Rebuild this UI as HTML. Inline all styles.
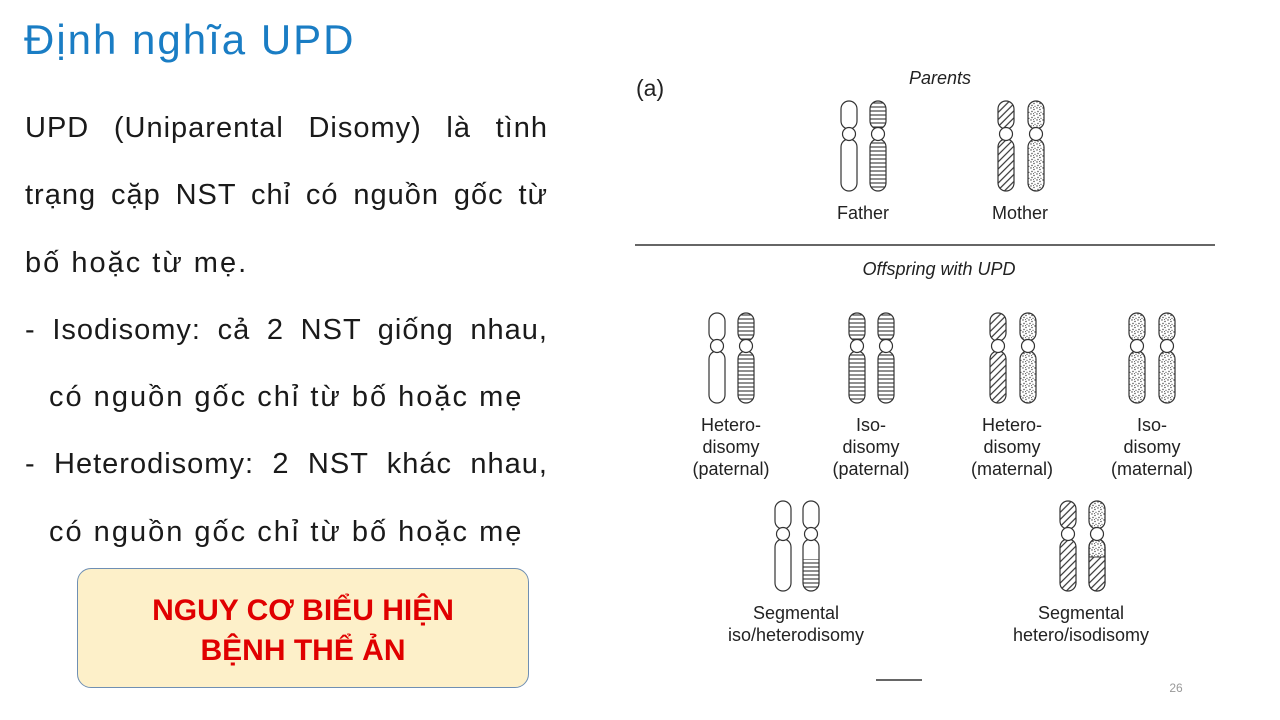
<!DOCTYPE html>
<html><head><meta charset="utf-8"><style>
body{margin:0;width:1280px;height:720px;background:#fff;position:relative;overflow:hidden;font-family:"Liberation Sans","DejaVu Sans",sans-serif}
.t{position:absolute;left:25px;width:523px;font-size:29px;line-height:40px;color:#1a1a1a;white-space:nowrap;letter-spacing:2px}
.j{text-align:justify;text-align-last:justify;letter-spacing:1px}
.title{position:absolute;left:24px;top:14px;font-size:42px;color:#1a7dc4;line-height:52px;letter-spacing:2px}
.box{position:absolute;left:77px;top:568px;width:452px;height:120px;background:#fdf0c9;border:1px solid #6f8fb3;border-radius:14px;box-sizing:border-box;text-align:center;color:#e00000;font-weight:bold;font-size:30px;line-height:40px;padding-top:22px}
</style></head><body>
<div class="title">Định nghĩa UPD</div>
<div class="t j" style="top:108px">UPD (Uniparental Disomy) là tình</div>
<div class="t j" style="top:175px">trạng cặp NST chỉ có nguồn gốc từ</div>
<div class="t" style="top:243px">bố hoặc từ mẹ.</div>
<div class="t j" style="top:310px">- Isodisomy: cả 2 NST giống nhau,</div>
<div class="t" style="top:377px;left:49px">có nguồn gốc chỉ từ bố hoặc mẹ</div>
<div class="t j" style="top:444px">- Heterodisomy: 2 NST khác nhau,</div>
<div class="t" style="top:512px;left:49px">có nguồn gốc chỉ từ bố hoặc mẹ</div>
<div class="box">NGUY CƠ BIỂU HIỆN<br>BỆNH THỂ ẢN</div>
<svg width="1280" height="720" style="position:absolute;left:0;top:0" font-family="Liberation Sans, sans-serif">
<defs>
<pattern id="hl" width="4" height="4" patternUnits="userSpaceOnUse"><rect width="4" height="4" fill="#fff"/><line x1="0" y1="2" x2="4" y2="2" stroke="#333" stroke-width="1.1"/></pattern>
<pattern id="dg" width="5" height="5" patternUnits="userSpaceOnUse" patternTransform="rotate(-45)"><rect width="5" height="5" fill="#fff"/><line x1="0" y1="2.5" x2="5" y2="2.5" stroke="#333" stroke-width="1.2"/></pattern>
<pattern id="dt" width="6" height="6" patternUnits="userSpaceOnUse"><rect width="6" height="6" fill="#fff"/><circle cx="1" cy="1" r=".7" fill="#444"/><circle cx="4" cy="2.5" r=".7" fill="#444"/><circle cx="2" cy="4.5" r=".7" fill="#444"/><circle cx="5" cy="5.3" r=".6" fill="#444"/><circle cx="3.5" cy="0.5" r=".5" fill="#444"/></pattern>
</defs>
<g stroke="#333" stroke-width="1.2">
<g transform="translate(849,101)"><rect x="-8" y="0" width="16" height="28" rx="8" fill="#fff"/><rect x="-8" y="38" width="16" height="52" rx="8" fill="#fff"/><circle cx="0" cy="33" r="6.5" fill="#fff"/></g>
<g transform="translate(878,101)"><rect x="-8" y="0" width="16" height="28" rx="8" fill="url(#hl)"/><rect x="-8" y="38" width="16" height="52" rx="8" fill="url(#hl)"/><circle cx="0" cy="33" r="6.5" fill="#fff"/></g>
<g transform="translate(1006,101)"><rect x="-8" y="0" width="16" height="28" rx="8" fill="url(#dg)"/><rect x="-8" y="38" width="16" height="52" rx="8" fill="url(#dg)"/><circle cx="0" cy="33" r="6.5" fill="#fff"/></g>
<g transform="translate(1036,101)"><rect x="-8" y="0" width="16" height="28" rx="8" fill="url(#dt)"/><rect x="-8" y="38" width="16" height="52" rx="8" fill="url(#dt)"/><circle cx="0" cy="33" r="6.5" fill="#fff"/></g>

<g transform="translate(717,313)"><rect x="-8" y="0" width="16" height="28" rx="8" fill="#fff"/><rect x="-8" y="38" width="16" height="52" rx="8" fill="#fff"/><circle cx="0" cy="33" r="6.5" fill="#fff"/></g>
<g transform="translate(746,313)"><rect x="-8" y="0" width="16" height="28" rx="8" fill="url(#hl)"/><rect x="-8" y="38" width="16" height="52" rx="8" fill="url(#hl)"/><circle cx="0" cy="33" r="6.5" fill="#fff"/></g>
<g transform="translate(857,313)"><rect x="-8" y="0" width="16" height="28" rx="8" fill="url(#hl)"/><rect x="-8" y="38" width="16" height="52" rx="8" fill="url(#hl)"/><circle cx="0" cy="33" r="6.5" fill="#fff"/></g>
<g transform="translate(886,313)"><rect x="-8" y="0" width="16" height="28" rx="8" fill="url(#hl)"/><rect x="-8" y="38" width="16" height="52" rx="8" fill="url(#hl)"/><circle cx="0" cy="33" r="6.5" fill="#fff"/></g>
<g transform="translate(998,313)"><rect x="-8" y="0" width="16" height="28" rx="8" fill="url(#dg)"/><rect x="-8" y="38" width="16" height="52" rx="8" fill="url(#dg)"/><circle cx="0" cy="33" r="6.5" fill="#fff"/></g>
<g transform="translate(1028,313)"><rect x="-8" y="0" width="16" height="28" rx="8" fill="url(#dt)"/><rect x="-8" y="38" width="16" height="52" rx="8" fill="url(#dt)"/><circle cx="0" cy="33" r="6.5" fill="#fff"/></g>
<g transform="translate(1137,313)"><rect x="-8" y="0" width="16" height="28" rx="8" fill="url(#dt)"/><rect x="-8" y="38" width="16" height="52" rx="8" fill="url(#dt)"/><circle cx="0" cy="33" r="6.5" fill="#fff"/></g>
<g transform="translate(1167,313)"><rect x="-8" y="0" width="16" height="28" rx="8" fill="url(#dt)"/><rect x="-8" y="38" width="16" height="52" rx="8" fill="url(#dt)"/><circle cx="0" cy="33" r="6.5" fill="#fff"/></g>

<g transform="translate(783,501)"><rect x="-8" y="0" width="16" height="28" rx="8" fill="#fff"/><rect x="-8" y="38" width="16" height="52" rx="8" fill="#fff"/><circle cx="0" cy="33" r="6.5" fill="#fff"/></g>
<g transform="translate(811,501)"><rect x="-8" y="0" width="16" height="28" rx="8" fill="#fff"/><path d="M-8,58 V82 A8,8 0 0 0 8,82 V58 Z" fill="url(#hl)" stroke="none"/><rect x="-8" y="38" width="16" height="52" rx="8" fill="none"/><circle cx="0" cy="33" r="6.5" fill="#fff"/></g>
<g transform="translate(1068,501)"><rect x="-8" y="0" width="16" height="28" rx="8" fill="url(#dg)"/><rect x="-8" y="38" width="16" height="52" rx="8" fill="url(#dg)"/><circle cx="0" cy="33" r="6.5" fill="#fff"/></g>
<g transform="translate(1097,501)"><rect x="-8" y="0" width="16" height="28" rx="8" fill="url(#dt)"/><rect x="-8" y="38" width="16" height="52" rx="8" fill="url(#dt)"/><path d="M-8,56 V82 A8,8 0 0 0 8,82 V56 Z" fill="url(#dg)" stroke="none"/><line x1="-8" y1="56" x2="8" y2="56" stroke-width="1"/><rect x="-8" y="38" width="16" height="52" rx="8" fill="none"/><circle cx="0" cy="33" r="6.5" fill="#fff"/></g>
</g>
<line x1="635" y1="245" x2="1215" y2="245" stroke="#333" stroke-width="1.5"/>
<line x1="876" y1="680" x2="922" y2="680" stroke="#333" stroke-width="1.5"/>
<g fill="#222" font-size="18" text-anchor="middle">
<text x="636" y="96" text-anchor="start" font-size="23">(a)</text>
<text x="940" y="84" font-style="italic">Parents</text>
<text x="863" y="219">Father</text>
<text x="1020" y="219">Mother</text>
<text x="939" y="275" font-style="italic">Offspring with UPD</text>
<text x="731" y="431">Hetero-</text><text x="731" y="453">disomy</text><text x="731" y="475">(paternal)</text>
<text x="871" y="431">Iso-</text><text x="871" y="453">disomy</text><text x="871" y="475">(paternal)</text>
<text x="1012" y="431">Hetero-</text><text x="1012" y="453">disomy</text><text x="1012" y="475">(maternal)</text>
<text x="1152" y="431">Iso-</text><text x="1152" y="453">disomy</text><text x="1152" y="475">(maternal)</text>
<text x="796" y="619">Segmental</text><text x="796" y="641">iso/heterodisomy</text>
<text x="1081" y="619">Segmental</text><text x="1081" y="641">hetero/isodisomy</text>
<text x="1176" y="692" font-size="12" fill="#999">26</text>
</g>
</svg>
</body></html>
